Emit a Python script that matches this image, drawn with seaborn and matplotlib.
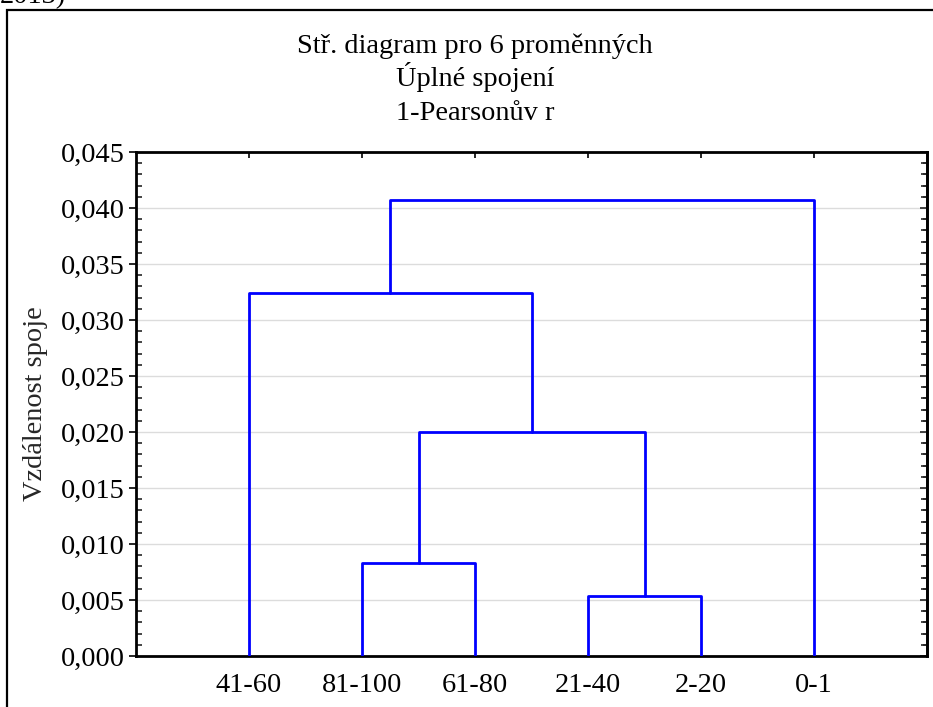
import matplotlib
matplotlib.use("Agg")
import matplotlib.pyplot as plt
from matplotlib.patches import Rectangle
from matplotlib.ticker import FixedLocator, MultipleLocator, FuncFormatter
import numpy as np
import pandas as pd
import seaborn as sns

# Leaves in dendrogram order (left to right)
leaf_labels = ["41-60", "81-100", "61-80", "21-40", "2-20", "0-1"]

# Complete-linkage merges (scipy-style: cluster ids >= 6 are earlier merges)
link_a = [3, 1, 7, 0, 9]
link_b = [4, 2, 6, 8, 5]
link_h = [0.0054, 0.0083, 0.0200, 0.03245, 0.0407]

y_ticks = [0.000, 0.005, 0.010, 0.015, 0.020, 0.025, 0.030, 0.035, 0.040, 0.045]

title_lines = ["Stř. diagram pro 6 proměnných", "Úplné spojení", "1-Pearsonův r"]
y_label = "Vzdálenost spoje"

FS = 20.4

sns.set_theme(style="white")
plt.rcParams["font.family"] = ["Liberation Serif", "DejaVu Serif"]

# Build the link segments of the dendrogram
n = len(leaf_labels)
pos_x = {i: i + 1.0 for i in range(n)}
pos_h = {i: 0.0 for i in range(n)}
rows = []
for k, (a, b, h) in enumerate(zip(link_a, link_b, link_h)):
    xa, xb = pos_x[a], pos_x[b]
    ha, hb = pos_h[a], pos_h[b]
    for x, y in [(xa, ha), (xa, h), (xb, h), (xb, hb)]:
        rows.append({"seg": k, "x": x, "y": y})
    pos_x[n + k] = (xa + xb) / 2.0
    pos_h[n + k] = h
segs = pd.DataFrame(rows)

fig = plt.figure(figsize=(9.33, 7.07), dpi=100)
ax = fig.add_axes([136 / 933, 51 / 707, 791 / 933, 504 / 707])

for y in y_ticks[1:-1]:
    ax.axhline(y, color="#dcdcdc", lw=1.0, zorder=0)

sns.lineplot(data=segs, x="x", y="y", units="seg", estimator=None, sort=False,
             color="#0000ff", lw=2.0, ax=ax, legend=False, zorder=3)

ax.set_xlim(0, n + 1)
ax.set_ylim(y_ticks[0], y_ticks[-1])
ax.xaxis.set_major_locator(FixedLocator([i + 1 for i in range(n)]))
ax.set_xticklabels(leaf_labels)
ax.yaxis.set_major_locator(FixedLocator(y_ticks))
ax.yaxis.set_minor_locator(MultipleLocator(0.001))
ax.yaxis.set_major_formatter(FuncFormatter(lambda v, p: f"{v:.3f}".replace(".", ",")))
ax.set_xlabel("")
ax.set_ylabel(y_label, fontsize=FS, labelpad=9)

ax.tick_params(axis="y", which="major", direction="out", length=5, width=1.2,
               labelsize=FS, colors="black", left=True, right=False, pad=3)
ax.tick_params(axis="y", which="minor", direction="in", length=4, width=1.2,
               left=True, right=True)
ax.tick_params(axis="x", which="major", direction="in", length=4, width=1.2,
               labelsize=FS, colors="black", top=True, bottom=False, pad=12)
ax.grid(False)

# right spine major ticks pointing inward
ax2 = ax.secondary_yaxis("right")
ax2.yaxis.set_major_locator(FixedLocator(y_ticks))
ax2.tick_params(axis="y", which="major", direction="in", length=5, width=1.2, labelright=False)
ax2.yaxis.set_minor_locator(MultipleLocator(0.001))
ax2.tick_params(axis="y", which="minor", direction="in", length=3, width=1.2)
ax2.spines["right"].set_linewidth(2)

for s in ax.spines.values():
    s.set_color("black")
    s.set_linewidth(2)

# Title block centred over the framed panel
for i, line in enumerate(title_lines):
    fig.text(475 / 933, 1 - (53 + 33.5 * i) / 707, line, ha="center", va="baseline",
             fontsize=FS, color="black")

# Frame around the whole graphic
fig.patches.append(Rectangle((7 / 933, -0.2), 1.5, 1.2 - 10 / 707, fill=False,
                             edgecolor="black", lw=1.6, transform=fig.transFigure))

fig.text(0.0, 1 - 3 / 707, "2013)", ha="left", va="baseline", fontsize=FS, color="black")

fig.savefig("out.png", dpi=100)
